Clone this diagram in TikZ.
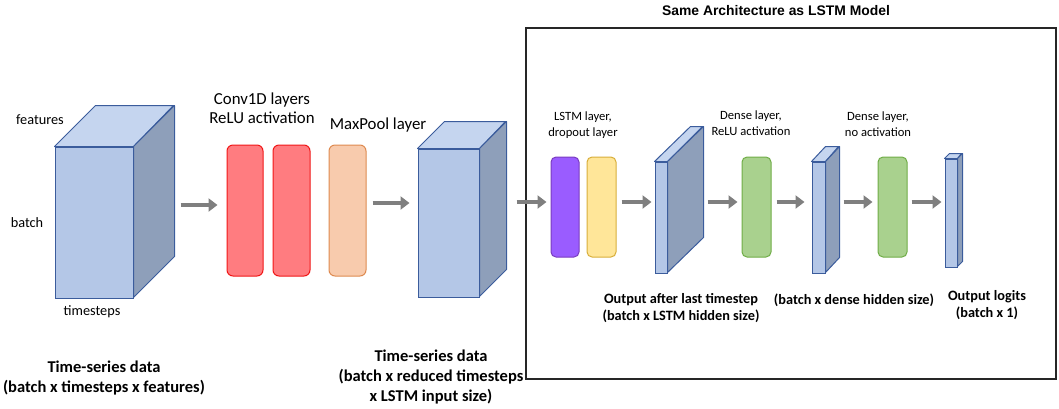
\documentclass[tikz,border=0pt]{standalone}
\usepackage{fontspec}
\setmainfont{Carlito}
\newfontfamily\titlefont{Liberation Sans}
\usetikzlibrary{positioning}
\usetikzlibrary{arrows.meta}

\definecolor{cubefront}{HTML}{B4C7E7}
\definecolor{cubetop}{HTML}{C5D5EF}
\definecolor{cubeside}{HTML}{8E9FBA}
\definecolor{cubeedge}{HTML}{3B5C9C}
\definecolor{convfill}{HTML}{FF7C80}
\definecolor{convedge}{HTML}{F01818}
\definecolor{poolfill}{HTML}{F8CBAD}
\definecolor{pooledge}{HTML}{DE8A50}
\definecolor{lstmfill}{HTML}{9A5CFF}
\definecolor{lstmedge}{HTML}{7A3CC0}
\definecolor{dropfill}{HTML}{FFE699}
\definecolor{dropedge}{HTML}{D8AE3A}
\definecolor{densefill}{HTML}{A9D18E}
\definecolor{denseedge}{HTML}{70AD47}
\definecolor{arrgray}{HTML}{7F7F7F}

\begin{document}
\begin{tikzpicture}[x=1pt,y=-1pt,
  face/.style={draw=cubeedge, line width=1pt, fill=cubefront, inner sep=0pt},
  depth/.style={draw=cubeedge, line width=1pt, line join=round},
  layer/.style={rounded corners=6pt, line width=1pt, inner sep=0pt},
  arr/.style={draw=arrgray, line width=4pt, -{Triangle[length=9pt,width=13pt]}},
  lbl/.style={font=\fontsize{14.3}{16}\selectfont, align=center},
  small/.style={font=\fontsize{12.6}{16}\selectfont, align=center},
  datalbl/.style={font=\bfseries\fontsize{16.5}{20}\selectfont, align=center},
  outlbl/.style={font=\bfseries\fontsize{14.3}{17}\selectfont, align=center}]

\useasboundingbox (0,0) rectangle (1059,408);

% input data cube
\node[face, minimum width=78pt, minimum height=151pt] (cube1) at (94,222.5) {};
\draw[depth, fill=cubetop] (cube1.north west) -- ++(41,-41) -- ++(78,0) -- (cube1.north east) -- cycle;
\draw[depth, fill=cubeside] (cube1.north east) -- ++(41,-41) -- ++(0,151) -- ++(-41,41) -- cycle;

\node[lbl] (feat) at (40,120) {features};
\node[lbl] (bat) at (27,223) {batch};
\node[lbl] (steps) at (92,312) {timesteps};
\node[datalbl] (inlbl) at (104,378) {Time-series data\\(batch x timesteps x features)};

% conv and pooling layers
\node[layer, draw=convedge, fill=convfill, minimum width=36pt, minimum height=131pt] (conv1) at (245,210.5) {};
\node[layer, draw=convedge, fill=convfill, minimum width=37pt, minimum height=131pt] (conv2) at (291.5,210.5) {};
\node[layer, draw=pooledge, fill=poolfill, minimum width=37pt, minimum height=131pt] (pool) at (347.5,210.5) {};

\node[font=\fontsize{16.8}{19}\selectfont, align=center] (convlbl) at (262,108.5) {Conv1D layers\\ReLU activation};
\node[font=\fontsize{16.8}{19}\selectfont] (poollbl) at (378,125) {MaxPool layer};

% reduced data cube
\node[face, minimum width=61pt, minimum height=148pt] (cube2) at (448.5,223) {};
\draw[depth, fill=cubetop] (cube2.north west) -- ++(27,-27) -- ++(61,0) -- (cube2.north east) -- cycle;
\draw[depth, fill=cubeside] (cube2.north east) -- ++(27,-27) -- ++(0,148) -- ++(-27,27) -- cycle;

\node[datalbl] (midlbl) at (431,377) {Time-series data\\(batch x reduced timesteps\\x LSTM input size)};

% LSTM part
\node[draw=black!85, line width=1.3pt, minimum width=530pt, minimum height=351pt, inner sep=0pt] (frame) at (791,203.5) {};
\node[font=\titlefont\bfseries\fontsize{13.9}{15}\selectfont] (title) at (776,11) {Same Architecture as LSTM Model};

\node[layer, rounded corners=5pt, draw=lstmedge, fill=lstmfill, minimum width=28pt, minimum height=100pt] (lstm) at (565,207) {};
\node[layer, rounded corners=5pt, draw=dropedge, fill=dropfill, minimum width=29pt, minimum height=100pt] (drop) at (601.5,207) {};
\node[small] (lstmlbl) at (583,125) {LSTM layer,\\dropout layer};

\node[face, minimum width=12pt, minimum height=111pt] (slab1) at (661,217.5) {};
\draw[depth, fill=cubetop] (slab1.north west) -- ++(36,-35) -- ++(12,0) -- (slab1.north east) -- cycle;
\draw[depth, fill=cubeside] (slab1.north east) -- ++(36,-35) -- ++(0,111) -- ++(-36,35) -- cycle;
\node[outlbl] (hidlbl) at (681,308.5) {Output after last timestep\\(batch x LSTM hidden size)};

\node[layer, rounded corners=5pt, draw=denseedge, fill=densefill, minimum width=29pt, minimum height=100pt] (dense1) at (756.5,207) {};
\node[small] (d1lbl) at (751,123) {Dense layer,\\ReLU activation};

\node[face, minimum width=13pt, minimum height=111pt] (slab2) at (818.5,217.5) {};
\draw[depth, fill=cubetop] (slab2.north west) -- ++(14,-15) -- ++(13,0) -- (slab2.north east) -- cycle;
\draw[depth, fill=cubeside] (slab2.north east) -- ++(14,-15) -- ++(0,111) -- ++(-14,15) -- cycle;
\node[outlbl] (denselbl) at (854,300.5) {(batch x dense hidden size)};

\node[layer, rounded corners=5pt, draw=denseedge, fill=densefill, minimum width=29pt, minimum height=100pt] (dense2) at (892.5,207) {};
\node[small] (d2lbl) at (878,124) {Dense layer,\\no activation};

\node[face, minimum width=12pt, minimum height=108pt] (slab3) at (951,213) {};
\draw[depth, fill=cubetop] (slab3.north west) -- ++(5,-5) -- ++(12,0) -- (slab3.north east) -- cycle;
\draw[depth, fill=cubeside] (slab3.north east) -- ++(5,-5) -- ++(0,108) -- ++(-5,5) -- cycle;
\node[outlbl] (logitlbl) at (987,305) {Output logits\\(batch x 1)};

% arrows
\draw[arr, shorten <=47pt, shorten >=9pt] (cube1.east |- 0,205) -- (conv1.west |- 0,205);
\draw[arr, shorten <=6pt, shorten >=8pt] (pool.east |- 0,203) -- (cube2.west |- 0,203);
\draw[arr, shorten <=37pt, shorten >=4pt] (cube2.east |- 0,202) -- (lstm.west |- 0,202);
\draw[arr, shorten <=5pt, shorten >=3pt] (drop.east |- 0,202) -- (slab1.west |- 0,202);
\draw[arr, shorten <=40pt, shorten >=4pt] (slab1.east |- 0,202) -- (dense1.west |- 0,202);
\draw[arr, shorten <=5pt, shorten >=7pt] (dense1.east |- 0,202) -- (slab2.west |- 0,202);
\draw[arr, shorten <=18pt, shorten >=5pt] (slab2.east |- 0,202) -- (dense2.west |- 0,202);
\draw[arr, shorten <=4pt, shorten >=3pt] (dense2.east |- 0,202) -- (slab3.west |- 0,202);

\end{tikzpicture}
\end{document}
